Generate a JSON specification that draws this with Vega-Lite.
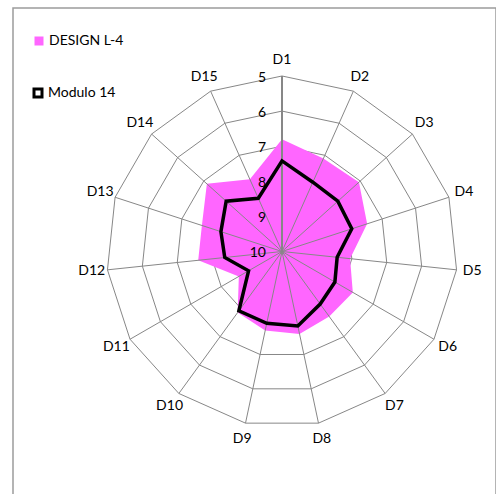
{
  "$schema": "https://vega.github.io/schema/vega-lite/v6.json",
  "width": 483,
  "height": 496,
  "autosize": "none",
  "padding": {"left": 13, "top": 8, "right": 0, "bottom": 0},
  "background": "white",
  "config": {"view": {"stroke": "#9c9c9c", "strokeWidth": 1.5}, "font": "Lato"},
  "data": {"values": [
    {"k": 1, "axis": "D1", "series": "DESIGN L-4", "value": 6.8},
    {"k": 2, "axis": "D2", "series": "DESIGN L-4", "value": 7.1},
    {"k": 3, "axis": "D3", "series": "DESIGN L-4", "value": 7.05},
    {"k": 4, "axis": "D4", "series": "DESIGN L-4", "value": 7.45},
    {"k": 5, "axis": "D5", "series": "DESIGN L-4", "value": 8.05},
    {"k": 6, "axis": "D6", "series": "DESIGN L-4", "value": 7.67},
    {"k": 7, "axis": "D7", "series": "DESIGN L-4", "value": 7.71},
    {"k": 8, "axis": "D8", "series": "DESIGN L-4", "value": 7.6},
    {"k": 9, "axis": "D9", "series": "DESIGN L-4", "value": 7.7},
    {"k": 10, "axis": "D10", "series": "DESIGN L-4", "value": 7.85},
    {"k": 11, "axis": "D11", "series": "DESIGN L-4", "value": 8.58},
    {"k": 12, "axis": "D12", "series": "DESIGN L-4", "value": 7.6},
    {"k": 13, "axis": "D13", "series": "DESIGN L-4", "value": 7.6},
    {"k": 14, "axis": "D14", "series": "DESIGN L-4", "value": 7.12},
    {"k": 15, "axis": "D15", "series": "DESIGN L-4", "value": 7.75},
    {"k": 1, "axis": "D1", "series": "Modulo 14", "value": 7.42},
    {"k": 2, "axis": "D2", "series": "Modulo 14", "value": 7.84},
    {"k": 3, "axis": "D3", "series": "Modulo 14", "value": 7.86},
    {"k": 4, "axis": "D4", "series": "Modulo 14", "value": 7.91},
    {"k": 5, "axis": "D5", "series": "Modulo 14", "value": 8.42},
    {"k": 6, "axis": "D6", "series": "Modulo 14", "value": 8.26},
    {"k": 7, "axis": "D7", "series": "Modulo 14", "value": 8.15},
    {"k": 8, "axis": "D8", "series": "Modulo 14", "value": 7.83},
    {"k": 9, "axis": "D9", "series": "Modulo 14", "value": 7.91},
    {"k": 10, "axis": "D10", "series": "Modulo 14", "value": 7.91},
    {"k": 11, "axis": "D11", "series": "Modulo 14", "value": 8.9},
    {"k": 12, "axis": "D12", "series": "Modulo 14", "value": 8.36},
    {"k": 13, "axis": "D13", "series": "Modulo 14", "value": 8.17},
    {"k": 14, "axis": "D14", "series": "Modulo 14", "value": 7.86},
    {"k": 15, "axis": "D15", "series": "Modulo 14", "value": 8.34}
  ]},
  "transform": [
    {"calculate": "(datum.k - 1) * 2 * PI / 15", "as": "theta"},
    {"calculate": "0", "as": "c0"}
  ],
  "layer": [
    {
      "transform": [
        {"filter": "datum.series == 'DESIGN L-4'"},
        {"calculate": "[5, 6, 7, 8, 9]", "as": "lv"},
        {"flatten": ["lv"]},
        {"calculate": "(10 - datum.lv) * sin(datum.theta)", "as": "gx"},
        {"calculate": "(10 - datum.lv) * cos(datum.theta)", "as": "gy"}
      ],
      "mark": {"type": "line", "interpolate": "linear-closed", "stroke": "#878787", "strokeWidth": 1},
      "encoding": {
        "x": {"field": "gx", "type": "quantitative", "scale": {"domain": [-7.664, 6.097], "nice": false, "zero": false}, "axis": null},
        "y": {"field": "gy", "type": "quantitative", "scale": {"domain": [-7.194, 6.937], "nice": false, "zero": false}, "axis": null},
        "detail": {"field": "lv", "type": "nominal"},
        "order": {"field": "k", "type": "quantitative"}
      }
    },
    {
      "transform": [
        {"filter": "datum.series == 'DESIGN L-4'"},
        {"calculate": "(10 - datum.value) * sin(datum.theta)", "as": "px"},
        {"calculate": "(10 - datum.value) * cos(datum.theta)", "as": "py"}
      ],
      "mark": {"type": "line", "interpolate": "linear-closed", "strokeOpacity": 0, "fillOpacity": 1},
      "encoding": {
        "x": {"field": "px", "type": "quantitative", "scale": {"domain": [-7.664, 6.097], "nice": false, "zero": false}, "axis": null},
        "y": {"field": "py", "type": "quantitative", "scale": {"domain": [-7.194, 6.937], "nice": false, "zero": false}, "axis": null},
        "order": {"field": "k", "type": "quantitative"},
        "fill": {
          "field": "series", "type": "nominal",
          "scale": {"domain": ["DESIGN L-4"], "range": ["#FF66FF"]},
          "legend": {"orient": "none", "legendX": 19, "legendY": 26, "title": null, "symbolType": "square", "symbolSize": 81, "symbolStrokeWidth": 0, "labelFont": "Lato", "labelFontSize": 14, "labelColor": "#000000", "labelOffset": 3, "padding": 0}
        }
      }
    },
    {
      "transform": [
        {"filter": "datum.series == 'DESIGN L-4'"},
        {"calculate": "5 * sin(datum.theta)", "as": "ox"},
        {"calculate": "5 * cos(datum.theta)", "as": "oy"}
      ],
      "mark": {"type": "rule", "stroke": "#878787"},
      "encoding": {
        "x": {"field": "c0", "type": "quantitative", "scale": {"domain": [-7.664, 6.097], "nice": false, "zero": false}, "axis": null},
        "y": {"field": "c0", "type": "quantitative", "scale": {"domain": [-7.194, 6.937], "nice": false, "zero": false}, "axis": null},
        "x2": {"field": "ox"},
        "y2": {"field": "oy"},
        "strokeWidth": {"condition": {"test": "datum.k == 1", "value": 2}, "value": 1}
      }
    },
    {
      "transform": [
        {"filter": "datum.series == 'Modulo 14'"},
        {"calculate": "(10 - datum.value) * sin(datum.theta)", "as": "px"},
        {"calculate": "(10 - datum.value) * cos(datum.theta)", "as": "py"}
      ],
      "mark": {"type": "line", "interpolate": "linear-closed", "strokeWidth": 3.5, "strokeJoin": "miter"},
      "encoding": {
        "x": {"field": "px", "type": "quantitative", "scale": {"domain": [-7.664, 6.097], "nice": false, "zero": false}, "axis": null},
        "y": {"field": "py", "type": "quantitative", "scale": {"domain": [-7.194, 6.937], "nice": false, "zero": false}, "axis": null},
        "order": {"field": "k", "type": "quantitative"},
        "stroke": {
          "field": "series", "type": "nominal",
          "scale": {"domain": ["Modulo 14"], "range": ["#000000"]},
          "legend": {"orient": "none", "legendX": 18, "legendY": 78, "title": null, "symbolType": "square", "symbolSize": 64, "symbolStrokeWidth": 3, "symbolFillColor": "#ffffff", "labelFont": "Lato", "labelFontSize": 14, "labelColor": "#000000", "labelOffset": 3, "padding": 0}
        }
      }
    },
    {
      "transform": [
        {"filter": "datum.series == 'DESIGN L-4'"},
        {"calculate": "5.45 * sin(datum.theta)", "as": "lx"},
        {"calculate": "5.45 * cos(datum.theta)", "as": "ly"}
      ],
      "mark": {"type": "text", "font": "Lato", "fontSize": 14, "color": "#000000", "align": "center", "baseline": "middle"},
      "encoding": {
        "x": {"field": "lx", "type": "quantitative", "scale": {"domain": [-7.664, 6.097], "nice": false, "zero": false}, "axis": null},
        "y": {"field": "ly", "type": "quantitative", "scale": {"domain": [-7.194, 6.937], "nice": false, "zero": false}, "axis": null},
        "text": {"field": "axis", "type": "nominal"}
      }
    },
    {
      "transform": [
        {"filter": "datum.series == 'DESIGN L-4' && datum.k == 1"},
        {"calculate": "[5, 6, 7, 8, 9, 10]", "as": "tv"},
        {"flatten": ["tv"]},
        {"calculate": "10 - datum.tv", "as": "ty"}
      ],
      "mark": {"type": "text", "font": "Lato", "fontSize": 14, "color": "#000000", "align": "right", "baseline": "middle", "dx": -16, "dy": 2},
      "encoding": {
        "x": {"field": "c0", "type": "quantitative", "scale": {"domain": [-7.664, 6.097], "nice": false, "zero": false}, "axis": null},
        "y": {"field": "ty", "type": "quantitative", "scale": {"domain": [-7.194, 6.937], "nice": false, "zero": false}, "axis": null},
        "text": {"field": "tv", "type": "quantitative"}
      }
    }
  ]
}
